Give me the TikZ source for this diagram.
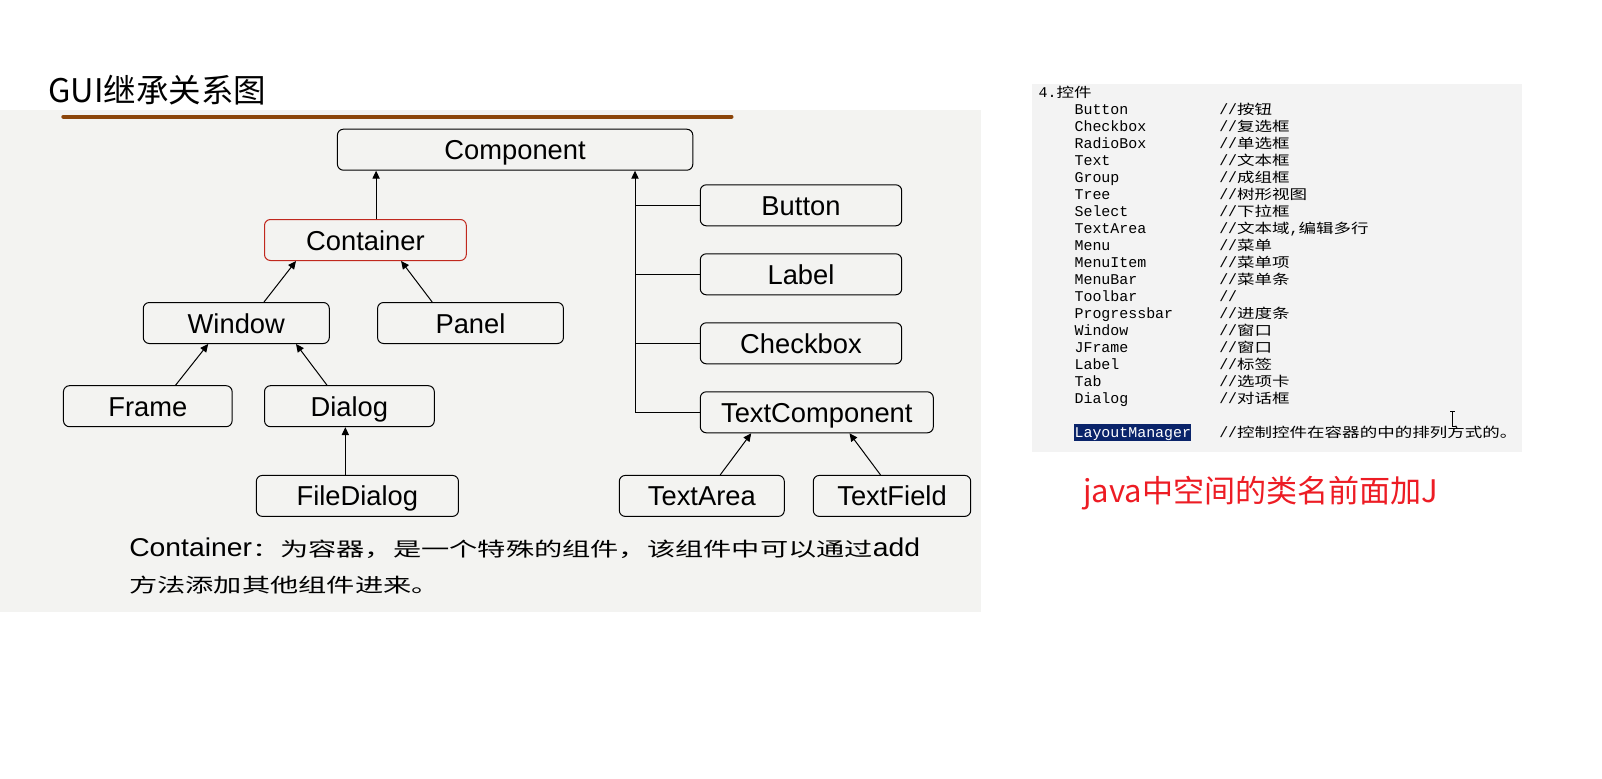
\documentclass[tikz,border=0pt]{standalone}
\usepackage{fontspec}
\setmainfont{Liberation Sans}
\newfontfamily\cjk{Noto Sans CJK SC}
\newfontfamily\monof{Liberation Mono}
\newfontfamily\cjkcode{Noto Sans CJK SC}[FakeStretch=1.3]
\newfontfamily\descl{Liberation Sans}[FakeStretch=1.1]
\newfontfamily\descc{Noto Sans CJK SC}[FakeStretch=1.45]
\usetikzlibrary{arrows.meta,calc}
\definecolor{bgpanel}{RGB}{243,243,241}
\definecolor{codepanel}{RGB}{243,243,243}
\definecolor{rule}{RGB}{139,69,10}
\definecolor{cred}{RGB}{192,40,30}
\definecolor{jred}{RGB}{237,28,36}
\definecolor{selnavy}{RGB}{10,36,106}
\newcommand\cc[1]{{\cjkcode\fontsize{10.1pt}{12pt}\selectfont #1}}
\newcommand\codeline[4]{%
  \node[codetxt] (#1n) at (1074.3,#2) {#3};
  \node[codetxt] (#1c) at (1219,#2) {#4};}
\tikzset{
  cls/.style={draw=black, line width=0.75pt, rounded corners=4.5pt, fill=bgpanel,
    minimum height=30.75pt, inner sep=0pt, text height=15pt, text depth=0pt,
    font=\fontsize{20.5pt}{24pt}\selectfont},
  arr/.style={-{Triangle[length=6pt,width=5.5pt]}, line width=0.75pt},
  lnk/.style={line width=0.75pt},
  codetxt/.style={anchor=base west, inner sep=0pt,
    font=\monof\fontsize{11.2pt}{13pt}\selectfont},
}
\begin{document}
\begin{tikzpicture}[x=0.75pt,y=-0.75pt]
\useasboundingbox (0,0) rectangle (1602,778);
\fill[white] (0,0) rectangle (1602,778);
% panels
\fill[bgpanel] (0,109.5) rectangle (981,612);
\fill[codepanel] (1032,84.3) rectangle (1521.7,451.7);
% title
\node[anchor=base west, inner sep=0pt, font=\cjk\fontsize{24.4pt}{28pt}\selectfont] (title) at (48,102.3) {GUI继承关系图};
\draw[rule, line width=3pt, line cap=round] (63.3,116.7) -- (731.5,116.7);
% class boxes
\node[cls, minimum width=266.55pt] (Component) at (515.1,149.7) {Component};
\node[cls, draw=cred, minimum width=151.35pt] (Container) at (365.4,240) {Container};
\node[cls, minimum width=139.5pt] (Window) at (236.3,323) {Window};
\node[cls, minimum width=139.4pt] (Panel) at (470.5,323) {Panel};
\node[cls, minimum width=126.5pt] (Frame) at (147.8,406.2) {Frame};
\node[cls, minimum width=127.35pt] (Dialog) at (349.4,406.2) {Dialog};
\node[cls, minimum width=151.6pt] (FileDialog) at (357.4,495.9) {FileDialog};
\node[cls, minimum width=151.05pt] (Button) at (801,205.3) {Button};
\node[cls, minimum width=151.05pt] (Label) at (801,274.3) {Label};
\node[cls, minimum width=151.05pt] (Checkbox) at (801,343.3) {Checkbox};
\node[cls, minimum width=174.75pt] (TextComponent) at (816.8,412.3) {TextComponent};
\node[cls, minimum width=123.75pt] (TextArea) at (701.8,495.9) {TextArea};
\node[cls, minimum width=118.05pt] (TextField) at (892,495.9) {TextField};
% connectors
\draw[arr] ($(Container.north west)+(112.1,0)$) coordinate (a1) -- (a1 |- Component.south);
\draw[arr] ($(Window.north west)+(121.2,0)$) -- ($(Container.south west)+(32,0)$);
\draw[arr] ($(Panel.north west)+(55.1,0)$) -- ($(Container.south west)+(137.1,0)$);
\draw[arr] ($(Frame.north west)+(112.6,0)$) -- ($(Window.south west)+(65.4,0)$);
\draw[arr] ($(Dialog.north west)+(63,0)$) -- ($(Window.south west)+(153.2,0)$);
\draw[arr] ($(FileDialog.north west)+(89.5,0)$) coordinate (a2) -- (a2 |- Dialog.south);
\draw[arr] ($(TextArea.north west)+(101.4,0)$) -- ($(TextComponent.south west)+(51.4,0)$);
\draw[arr] ($(TextField.north west)+(67.7,0)$) -- ($(TextComponent.south west)+(149.7,0)$);
\coordinate (trunk) at ($(Component.south west)+(298.1,0)$);
\draw[arr] (TextComponent.west) -| (trunk);
\draw[lnk] (Button.west) -- (Button.west -| trunk);
\draw[lnk] (Label.west) -- (Label.west -| trunk);
\draw[lnk] (Checkbox.west) -- (Checkbox.west -| trunk);
% description
\node[anchor=base west, inner sep=0pt, font=\fontsize{19.3pt}{22pt}\selectfont] (desc1) at (129,556.5)
  {{\descl Container}{\descc\fontsize{14.6pt}{18pt}\selectfont ：为容器，是一个特殊的组件，该组件中可以通过}{\descl add}};
\node[anchor=base west, inner sep=0pt, font=\fontsize{14.6pt}{18pt}\selectfont] (desc2) at (129,592.5)
  {{\descc 方法添加其他组件进来。}};
% code panel
\node[codetxt] (head) at (1038.3,97.3) {4.\cc{控件}};
\codeline{c1}{114.3}{Button}{//\cc{按钮}}
\codeline{c2}{131.3}{Checkbox}{//\cc{复选框}}
\codeline{c3}{148.3}{RadioBox}{//\cc{单选框}}
\codeline{c4}{165.3}{Text}{//\cc{文本框}}
\codeline{c5}{182.3}{Group}{//\cc{成组框}}
\codeline{c6}{199.3}{Tree}{//\cc{树形视图}}
\codeline{c7}{216.3}{Select}{//\cc{下拉框}}
\codeline{c8}{233.3}{TextArea}{//\cc{文本域},\cc{编辑多行}}
\codeline{c9}{250.3}{Menu}{//\cc{菜单}}
\codeline{c10}{267.3}{MenuItem}{//\cc{菜单项}}
\codeline{c11}{284.3}{MenuBar}{//\cc{菜单条}}
\codeline{c12}{301.3}{Toolbar}{//}
\codeline{c13}{318.3}{Progressbar}{//\cc{进度条}}
\codeline{c14}{335.3}{Window}{//\cc{窗口}}
\codeline{c15}{352.3}{JFrame}{//\cc{窗口}}
\codeline{c16}{369.3}{Label}{//\cc{标签}}
\codeline{c17}{386.3}{Tab}{//\cc{选项卡}}
\codeline{c18}{403.3}{Dialog}{//\cc{对话框}}
\fill[selnavy] (1074,424) rectangle (1191,440.7);
\codeline{c19}{437.3}{\textcolor{white}{LayoutManager}}{//\cc{控制控件在容器的中的排列方式的。}}
% text cursor
\draw[line width=0.75pt] (1450.2,411.7) -- (1455.2,411.7) (1452.7,411.7) -- (1452.7,426.7) -- (1455.7,426.7);
% red note
\node[anchor=base west, inner sep=0pt, text=jred, font=\cjk\fontsize{23.3pt}{27pt}\selectfont] (note) at (1083,502) {java中空间的类名前面加J};
\end{tikzpicture}
\end{document}
